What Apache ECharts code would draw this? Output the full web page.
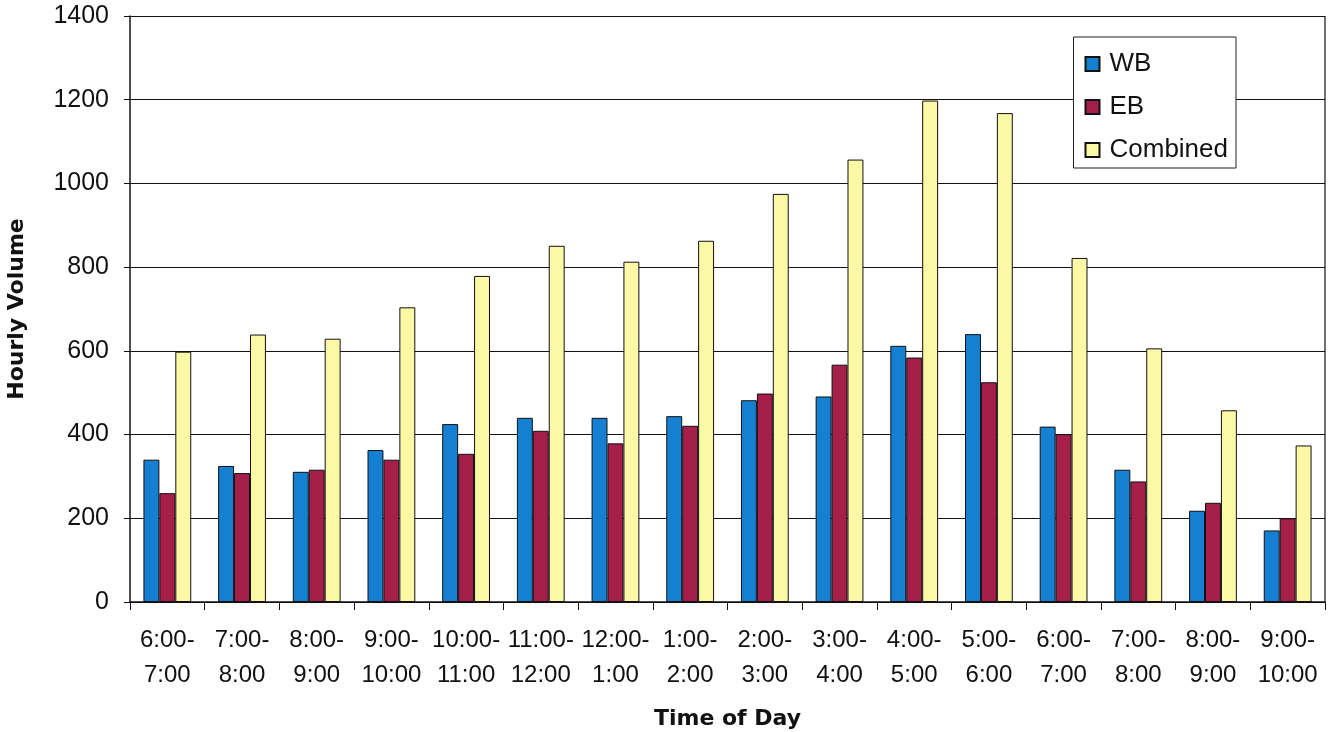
<!DOCTYPE html>
<html>
<head>
<meta charset="utf-8">
<script src="https://cdn.jsdelivr.net/npm/echarts@6/dist/echarts.min.js"></script>
<style>
html,body{margin:0;padding:0;background:#fff;}
#chart{width:1335px;height:732px;}
</style>
</head>
<body>
<div id="chart"></div>
<script>
const categories = ["6:00-\n7:00","7:00-\n8:00","8:00-\n9:00","9:00-\n10:00","10:00-\n11:00","11:00-\n12:00","12:00-\n1:00","1:00-\n2:00","2:00-\n3:00","3:00-\n4:00","4:00-\n5:00","5:00-\n6:00","6:00-\n7:00","7:00-\n8:00","8:00-\n9:00","9:00-\n10:00"];
const wb = [340, 325, 311, 363, 425, 440, 440, 444, 482, 491, 612, 640, 419, 316, 218, 171];
const eb = [260, 308, 316, 340, 354, 409, 379, 421, 498, 567, 584, 525, 401, 288, 237, 200];
const combined = [598, 639, 629, 704, 779, 851, 813, 863, 975, 1057, 1198, 1168, 822, 606, 458, 374];
const yTicks = {min: 0, max: 1400, interval: 200};

const font = "'Liberation Sans', Arial, sans-serif";
const titleFont = "'DejaVu Sans', sans-serif";
const chart = echarts.init(document.getElementById('chart'), null, {renderer: 'canvas'});
const barStyle = (c) => ({color: c, borderColor: '#111', borderWidth: 1});
chart.setOption({
  animation: false,
  backgroundColor: '#fff',
  grid: {left: 130, right: 10, top: 16, bottom: 130, containLabel: false, outerBoundsMode: 'none'},
  legend: {
    right: 99, top: 37,
    orient: 'vertical',
    backgroundColor: '#fff',
    borderColor: '#222', borderWidth: 1,
    padding: [14, 8, 5, 11],
    itemGap: 17,
    itemWidth: 14, itemHeight: 14,
    icon: 'rect',
    textStyle: {fontFamily: font, fontSize: 26, color: '#111', padding: [0,0,0,5]},
    data: ['WB', 'EB', 'Combined']
  },
  xAxis: {
    type: 'category',
    data: categories,
    name: 'Time of Day',
    nameLocation: 'middle',
    nameGap: 106,
    nameTextStyle: {fontFamily: titleFont, fontSize: 22, fontWeight: 'bold', color: '#111'},
    axisLine: {lineStyle: {color: '#111', width: 1.5}},
    axisTick: {show: true, alignWithLabel: false, length: 8, lineStyle: {color: '#111'}},
    axisLabel: {fontFamily: font, fontSize: 24, color: '#111', lineHeight: 35, margin: 21, interval: 0},
    splitLine: {show: false}
  },
  yAxis: {
    type: 'value',
    min: yTicks.min, max: yTicks.max, interval: yTicks.interval,
    name: 'Hourly Volume',
    nameLocation: 'middle',
    nameGap: 102,
    nameRotate: 90,
    nameTextStyle: {fontFamily: titleFont, fontSize: 22, fontWeight: 'bold', color: '#111'},
    axisLine: {show: true, lineStyle: {color: '#111', width: 1.5}},
    axisTick: {show: true, length: 6, lineStyle: {color: '#111'}},
    axisLabel: {fontFamily: font, fontSize: 25, color: '#111', margin: 21, formatter: (v) => String(v)},
    splitLine: {show: true, lineStyle: {color: '#111', width: 1.2}}
  },
  series: [
    {name: 'WB', type: 'bar', data: wb, itemStyle: barStyle('#1580d2'), barGap: '0%', barCategoryGap: '36%'},
    {name: 'EB', type: 'bar', data: eb, itemStyle: barStyle('#a61f4a')},
    {name: 'Combined', type: 'bar', data: combined, itemStyle: barStyle('#fbf8a6')}
  ],
  graphic: [{type: 'line', shape: {x1: 1325, y1: 16, x2: 1325, y2: 602}, style: {stroke: '#111', lineWidth: 1.2}, z: 10}]
});
</script>
</body>
</html>
